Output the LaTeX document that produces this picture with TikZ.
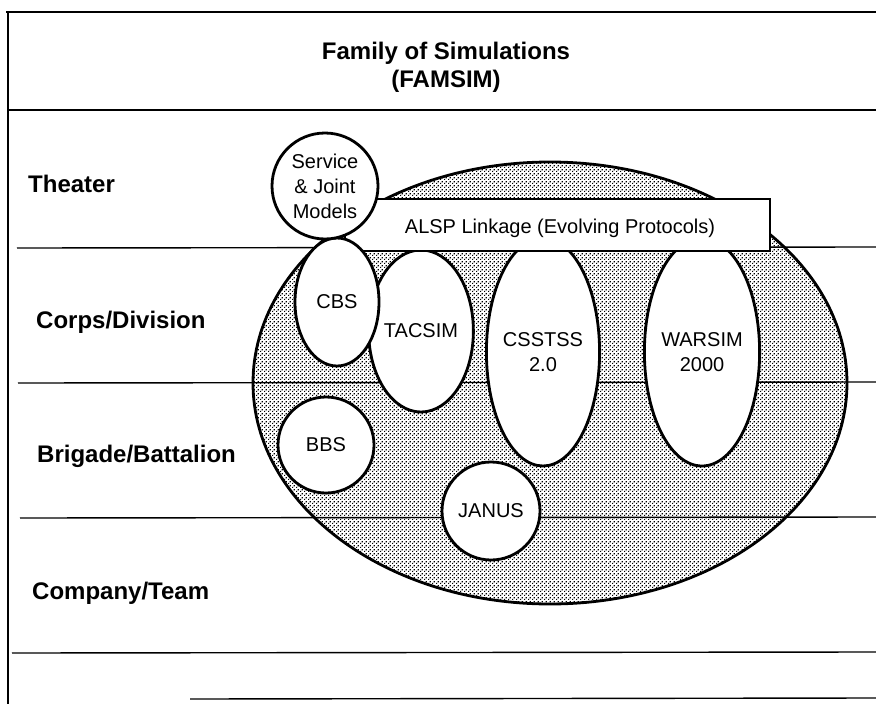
\documentclass[tikz,border=0pt]{standalone}
\usepackage{fontspec}
\setmainfont{Liberation Sans}
\usetikzlibrary{shapes.geometric,patterns.meta}
\pgfdeclarepattern{
  name=fdots,
  type=uncolored,
  bottom left={\pgfpoint{0pt}{0pt}},
  top right={\pgfpoint{4pt}{4pt}},
  tile size={\pgfpoint{4pt}{4pt}},
  code={
    \pgfpathrectangle{\pgfpointorigin}{\pgfpoint{1.5pt}{1.5pt}}
    \pgfpathrectangle{\pgfpoint{2pt}{2pt}}{\pgfpoint{1.5pt}{1.5pt}}
    \pgfusepath{fill}
  }
}
\begin{document}
\begin{tikzpicture}[x=1pt,y=-1pt,
  frameline/.style={line width=1.8pt},
  rowline/.style={line width=1.4pt},
  blob/.style={draw, line width=2.8pt, fill=white, ellipse, inner sep=0pt,
    font=\fontsize{20}{25}\selectfont, align=center},
  rowlabel/.style={anchor=west, font=\fontsize{24}{28}\selectfont\bfseries, inner sep=0pt},
  titletext/.style={font=\fontsize{24}{28}\selectfont\bfseries, align=center, inner sep=0pt}]
\useasboundingbox (0,0) rectangle (876,704);
\fill[white] (0,0) rectangle (876,704);

% frame
\draw[frameline] (6,12) -- (876,12);
\draw[frameline] (8,12) -- (8,704);

% title
\node[titletext] (title) at (446,67) {Family of Simulations\\(FAMSIM)};

% big shaded ellipse
\node[draw, line width=2.8pt, ellipse, minimum width=594pt, minimum height=442pt,
  inner sep=0pt, pattern={fdots}, pattern color=black] (fam) at (550,383) {};

% row lines
\draw[rowline] (8,110) -- (876,110);
\draw[rowline] (17,248) -- (876,247);
\draw[rowline] (18,383) -- (876,382);
\draw[rowline] (20,518) -- (876,517);
\draw[rowline] (12,653) -- (876,652);
\draw[rowline] (190,699) -- (876,698);

% row labels
\node[rowlabel] (theater) at (28,184) {Theater};
\node[rowlabel] (corps) at (36,322) {Corps/Division};
\node[rowlabel] (brigade) at (37,456) {Brigade/Battalion};
\node[rowlabel] (company) at (32,593) {Company/Team};

% simulations behind the ALSP box
\node[blob, minimum width=96pt, minimum height=162pt] (tacsim) at (421,331) {TACSIM};
\node[blob, minimum width=106pt, minimum height=228pt] (csstss) at (543,352) {CSSTSS\\2.0};
\node[blob, minimum width=100pt, minimum height=228pt] (warsim) at (702,352) {WARSIM\\2000};

% ALSP linkage box
\draw[line width=2.4pt, fill=white] (345,199) rectangle (770,251);
\node[font=\fontsize{20}{25}\selectfont, inner sep=0pt] (alsp) at (560,228) {ALSP Linkage (Evolving Protocols)};

% simulations in front
\node[blob, minimum width=84pt, minimum height=128pt] (cbs) at (337,302) {CBS};
\node[blob, circle, minimum size=106pt] (service) at (325,186) {Service\\\& Joint\\Models};
\node[blob, circle, minimum size=96pt] (bbs) at (326,445) {BBS};
\node[blob, circle, minimum size=98pt] (janus) at (491,511) {JANUS};
\end{tikzpicture}
\end{document}
